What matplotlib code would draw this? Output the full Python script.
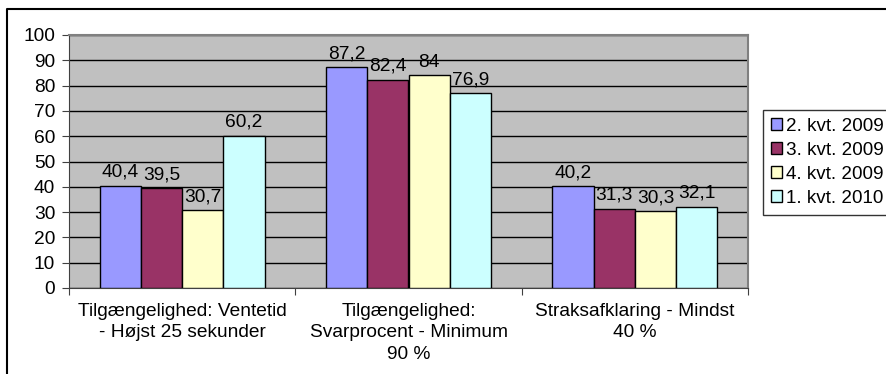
import matplotlib.pyplot as plt
import numpy as np
from matplotlib.lines import Line2D

plt.rcParams['font.family'] = ['Liberation Sans', 'DejaVu Sans']

kategorier = ["Tilgængelighed: Ventetid\n- Højst 25 sekunder",
              "Tilgængelighed:\nSvarprocent - Minimum\n90 %",
              "Straksafklaring - Mindst\n40 %"]
kvartaler = ["2. kvt. 2009", "3. kvt. 2009", "4. kvt. 2009", "1. kvt. 2010"]
kvt2_2009 = [40.4, 87.2, 40.2]
kvt3_2009 = [39.5, 82.4, 31.3]
kvt4_2009 = [30.7, 84, 30.3]
kvt1_2010 = [60.2, 76.9, 32.1]
serier = [kvt2_2009, kvt3_2009, kvt4_2009, kvt1_2010]
farver = ["#9999FF", "#993366", "#FFFFCC", "#CCFFFF"]

fs = 13.8

fig = plt.figure(figsize=(8.86, 3.74), dpi=100)
ax = fig.add_axes([69/886, 1-288/374, (748-69)/886, (288-35)/374])

# ramme om diagrammet (kun venstre og top ses)
x0, y0 = 7/886, 1-9/374
fig.add_artist(Line2D([x0, x0, 1.05], [-0.05, y0, y0], transform=fig.transFigure,
                      color='black', linewidth=1.5))

x = np.arange(len(kategorier))
bredde = 0.1825
for i, (vaerdier, farve, navn) in enumerate(zip(serier, farver, kvartaler)):
    pos = x + (i - 1.5) * bredde
    ax.bar(pos, vaerdier, bredde, color=farve, edgecolor='black', linewidth=1,
           label=navn, zorder=3)
    for px, v in zip(pos, vaerdier):
        tekst = f"{v:g}".replace('.', ',')
        ax.annotate(tekst, (px, v), xytext=(0, 3.5), textcoords='offset points',
                    ha='center', va='bottom', fontsize=fs)

ax.set_facecolor('#C0C0C0')
ax.set_ylim(0, 100)
ax.set_xlim(-0.5, 2.5)
ax.set_yticks(range(0, 101, 10))
ax.yaxis.grid(True, color='black', linewidth=1, zorder=0)
ax.set_axisbelow(True)

ax.set_xticks([-0.5, 0.5, 1.5, 2.5])
ax.set_xticklabels([])
ax.set_xticks(x, minor=True)
ax.set_xticklabels(kategorier, minor=True, fontsize=fs, va='top')
for lbl in ax.get_xticklabels(minor=True):
    lbl.set_linespacing(1.32)
ax.tick_params(axis='x', which='minor', length=0, pad=11)
ax.tick_params(axis='x', which='major', length=5, color='#404040')
ax.tick_params(axis='y', length=5, labelsize=fs, color='#404040', pad=5)

for side in ['top', 'right']:
    ax.spines[side].set_color('#808080')
    ax.spines[side].set_linewidth(1.5)
ax.spines['left'].set_color('#404040')
ax.spines['bottom'].set_color('#404040')

leg = fig.legend(loc='upper left', bbox_to_anchor=(763/886, 1-110/374),
                 fontsize=13.6, frameon=True, fancybox=False, edgecolor='black',
                 handlelength=0.6, handleheight=0.6, handletextpad=0.2,
                 borderpad=0.4, labelspacing=0.38, borderaxespad=0)
leg.get_frame().set_linewidth(1)

fig.savefig('out.png', dpi=100)
